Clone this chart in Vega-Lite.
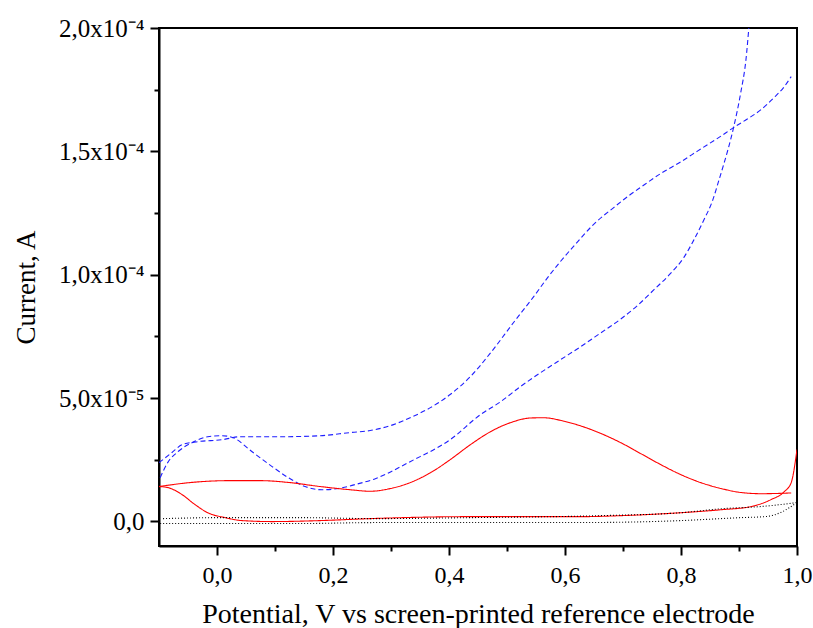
{
  "$schema": "https://vega.github.io/schema/vega-lite/v6.json",
  "width": 638,
  "height": 518,
  "autosize": "none",
  "padding": {"left": 159, "top": 28, "right": 16, "bottom": 82},
  "background": "white",
  "config": {"view": {"stroke": "black", "strokeWidth": 2}, "font": "Liberation Serif"},
  "datasets": {
    "cv": [
      {"series": "U", "V": -0.100, "I": 2.38e-5},
      {"series": "U", "V": -0.078, "I": 2.78e-5},
      {"series": "U", "V": -0.060, "I": 3.11e-5},
      {"series": "U", "V": -0.033, "I": 3.23e-5},
      {"series": "U", "V": 0.009, "I": 3.31e-5},
      {"series": "U", "V": 0.040, "I": 3.43e-5},
      {"series": "U", "V": 0.109, "I": 3.43e-5},
      {"series": "U", "V": 0.178, "I": 3.47e-5},
      {"series": "U", "V": 0.230, "I": 3.60e-5},
      {"series": "U", "V": 0.264, "I": 3.68e-5},
      {"series": "U", "V": 0.299, "I": 3.88e-5},
      {"series": "U", "V": 0.333, "I": 4.20e-5},
      {"series": "U", "V": 0.368, "I": 4.61e-5},
      {"series": "U", "V": 0.402, "I": 5.14e-5},
      {"series": "U", "V": 0.437, "I": 5.87e-5},
      {"series": "U", "V": 0.472, "I": 6.84e-5},
      {"series": "U", "V": 0.511, "I": 8.05e-5},
      {"series": "U", "V": 0.546, "I": 9.11e-5},
      {"series": "U", "V": 0.570, "I": 9.88e-5},
      {"series": "U", "V": 0.592, "I": 1.053e-4},
      {"series": "U", "V": 0.622, "I": 1.134e-4},
      {"series": "U", "V": 0.649, "I": 1.203e-4},
      {"series": "U", "V": 0.684, "I": 1.272e-4},
      {"series": "U", "V": 0.710, "I": 1.320e-4},
      {"series": "U", "V": 0.731, "I": 1.355e-4},
      {"series": "U", "V": 0.765, "I": 1.410e-4},
      {"series": "U", "V": 0.800, "I": 1.458e-4},
      {"series": "U", "V": 0.829, "I": 1.502e-4},
      {"series": "U", "V": 0.869, "I": 1.562e-4},
      {"series": "U", "V": 0.891, "I": 1.597e-4},
      {"series": "U", "V": 0.915, "I": 1.632e-4},
      {"series": "U", "V": 0.938, "I": 1.669e-4},
      {"series": "U", "V": 0.960, "I": 1.717e-4},
      {"series": "U", "V": 0.978, "I": 1.762e-4},
      {"series": "U", "V": 0.990, "I": 1.803e-4},

      {"series": "L", "V": -0.098, "I": 1.77e-5},
      {"series": "L", "V": -0.085, "I": 2.38e-5},
      {"series": "L", "V": -0.067, "I": 2.83e-5},
      {"series": "L", "V": -0.043, "I": 3.19e-5},
      {"series": "L", "V": -0.016, "I": 3.43e-5},
      {"series": "L", "V": 0.009, "I": 3.47e-5},
      {"series": "L", "V": 0.028, "I": 3.39e-5},
      {"series": "L", "V": 0.060, "I": 2.83e-5},
      {"series": "L", "V": 0.095, "I": 2.22e-5},
      {"series": "L", "V": 0.123, "I": 1.77e-5},
      {"series": "L", "V": 0.152, "I": 1.41e-5},
      {"series": "L", "V": 0.181, "I": 1.28e-5},
      {"series": "L", "V": 0.209, "I": 1.33e-5},
      {"series": "L", "V": 0.238, "I": 1.49e-5},
      {"series": "L", "V": 0.273, "I": 1.73e-5},
      {"series": "L", "V": 0.333, "I": 2.42e-5},
      {"series": "L", "V": 0.402, "I": 3.31e-5},
      {"series": "L", "V": 0.454, "I": 4.32e-5},
      {"series": "L", "V": 0.489, "I": 4.85e-5},
      {"series": "L", "V": 0.523, "I": 5.46e-5},
      {"series": "L", "V": 0.558, "I": 6.03e-5},
      {"series": "L", "V": 0.592, "I": 6.55e-5},
      {"series": "L", "V": 0.627, "I": 7.08e-5},
      {"series": "L", "V": 0.661, "I": 7.63e-5},
      {"series": "L", "V": 0.696, "I": 8.20e-5},
      {"series": "L", "V": 0.725, "I": 8.75e-5},
      {"series": "L", "V": 0.753, "I": 9.38e-5},
      {"series": "L", "V": 0.782, "I": 1.005e-4},
      {"series": "L", "V": 0.805, "I": 1.070e-4},
      {"series": "L", "V": 0.822, "I": 1.140e-4},
      {"series": "L", "V": 0.839, "I": 1.220e-4},
      {"series": "L", "V": 0.855, "I": 1.304e-4},
      {"series": "L", "V": 0.865, "I": 1.380e-4},
      {"series": "L", "V": 0.874, "I": 1.450e-4},
      {"series": "L", "V": 0.881, "I": 1.507e-4},
      {"series": "L", "V": 0.891, "I": 1.600e-4},
      {"series": "L", "V": 0.903, "I": 1.738e-4},
      {"series": "L", "V": 0.912, "I": 1.872e-4},
      {"series": "L", "V": 0.917, "I": 2.001e-4},

      {"series": "R1", "V": -0.100, "I": 1.41e-5},
      {"series": "R1", "V": -0.047, "I": 1.57e-5},
      {"series": "R1", "V": 0.022, "I": 1.65e-5},
      {"series": "R1", "V": 0.074, "I": 1.65e-5},
      {"series": "R1", "V": 0.126, "I": 1.57e-5},
      {"series": "R1", "V": 0.178, "I": 1.41e-5},
      {"series": "R1", "V": 0.230, "I": 1.28e-5},
      {"series": "R1", "V": 0.264, "I": 1.22e-5},
      {"series": "R1", "V": 0.299, "I": 1.33e-5},
      {"series": "R1", "V": 0.333, "I": 1.57e-5},
      {"series": "R1", "V": 0.368, "I": 1.97e-5},
      {"series": "R1", "V": 0.402, "I": 2.50e-5},
      {"series": "R1", "V": 0.437, "I": 3.11e-5},
      {"series": "R1", "V": 0.472, "I": 3.64e-5},
      {"series": "R1", "V": 0.506, "I": 4.00e-5},
      {"series": "R1", "V": 0.541, "I": 4.19e-5},
      {"series": "R1", "V": 0.563, "I": 4.20e-5},
      {"series": "R1", "V": 0.598, "I": 4.06e-5},
      {"series": "R1", "V": 0.632, "I": 3.83e-5},
      {"series": "R1", "V": 0.661, "I": 3.57e-5},
      {"series": "R1", "V": 0.696, "I": 3.19e-5},
      {"series": "R1", "V": 0.731, "I": 2.74e-5},
      {"series": "R1", "V": 0.765, "I": 2.30e-5},
      {"series": "R1", "V": 0.800, "I": 1.89e-5},
      {"series": "R1", "V": 0.834, "I": 1.57e-5},
      {"series": "R1", "V": 0.869, "I": 1.33e-5},
      {"series": "R1", "V": 0.903, "I": 1.17e-5},
      {"series": "R1", "V": 0.938, "I": 1.12e-5},
      {"series": "R1", "V": 0.990, "I": 1.15e-5},

      {"series": "R2", "V": -0.100, "I": 1.41e-5},
      {"series": "R2", "V": -0.085, "I": 1.37e-5},
      {"series": "R2", "V": -0.060, "I": 1.08e-5},
      {"series": "R2", "V": -0.038, "I": 0.68e-5},
      {"series": "R2", "V": -0.016, "I": 0.35e-5},
      {"series": "R2", "V": 0.014, "I": 0.15e-5},
      {"series": "R2", "V": 0.043, "I": 0.03e-5},
      {"series": "R2", "V": 0.095, "I": -0.01e-5},
      {"series": "R2", "V": 0.178, "I": 0.03e-5},
      {"series": "R2", "V": 0.264, "I": 0.11e-5},
      {"series": "R2", "V": 0.437, "I": 0.19e-5},
      {"series": "R2", "V": 0.627, "I": 0.19e-5},
      {"series": "R2", "V": 0.696, "I": 0.23e-5},
      {"series": "R2", "V": 0.800, "I": 0.35e-5},
      {"series": "R2", "V": 0.869, "I": 0.47e-5},
      {"series": "R2", "V": 0.921, "I": 0.60e-5},
      {"series": "R2", "V": 0.955, "I": 0.88e-5},
      {"series": "R2", "V": 0.978, "I": 1.20e-5},
      {"series": "R2", "V": 0.990, "I": 1.57e-5},
      {"series": "R2", "V": 1.000, "I": 2.91e-5},

      {"series": "D1", "V": -0.093, "I": 0.11e-5},
      {"series": "D1", "V": 0.005, "I": 0.15e-5},
      {"series": "D1", "V": 0.143, "I": 0.15e-5},
      {"series": "D1", "V": 0.273, "I": 0.11e-5},
      {"series": "D1", "V": 0.437, "I": 0.15e-5},
      {"series": "D1", "V": 0.661, "I": 0.23e-5},
      {"series": "D1", "V": 0.800, "I": 0.35e-5},
      {"series": "D1", "V": 0.869, "I": 0.51e-5},
      {"series": "D1", "V": 0.938, "I": 0.60e-5},
      {"series": "D1", "V": 0.972, "I": 0.68e-5},
      {"series": "D1", "V": 1.000, "I": 0.76e-5},

      {"series": "D2", "V": -0.098, "I": -0.09e-5},
      {"series": "D2", "V": 0.143, "I": -0.09e-5},
      {"series": "D2", "V": 0.273, "I": -0.05e-5},
      {"series": "D2", "V": 0.627, "I": -0.05e-5},
      {"series": "D2", "V": 0.800, "I": 0.03e-5},
      {"series": "D2", "V": 0.903, "I": 0.15e-5},
      {"series": "D2", "V": 0.945, "I": 0.19e-5},
      {"series": "D2", "V": 0.972, "I": 0.36e-5},
      {"series": "D2", "V": 0.995, "I": 0.68e-5}
    ]
  },
  "data": {"name": "cv"},
  "resolve": {"axis": {"x": "independent", "y": "independent"}},
  "layer": [
    {
      "mark": {"type": "line", "opacity": 0},
      "encoding": {
        "x": {"field": "V", "type": "quantitative", "scale": {"domain": [-0.1, 1.0], "nice": false, "zero": false},
          "axis": {"orient": "bottom", "values": [0.1, 0.3, 0.5, 0.7, 0.9], "labels": false, "title": null, "domain": false, "grid": false, "tickColor": "black", "tickWidth": 2, "tickSize": 5}},
        "y": {"field": "I", "type": "quantitative", "scale": {"domain": [-0.00001, 0.0002], "nice": false, "zero": false},
          "axis": {"orient": "left", "values": [0.000025, 0.000075, 0.000125, 0.000175], "labels": false, "title": null, "domain": false, "grid": false, "tickColor": "black", "tickWidth": 2, "tickSize": 5}}
      }
    },
    {
      "mark": {"type": "line", "strokeWidth": 1.1, "interpolate": "monotone", "clip": true},
      "encoding": {
        "x": {"field": "V", "type": "quantitative", "scale": {"domain": [-0.1, 1.0], "nice": false, "zero": false},
          "axis": {"orient": "bottom", "values": [0, 0.2, 0.4, 0.6, 0.8, 1.0], "labelExpr": "replace(format(datum.value,'.1f'),'.',',')",
            "title": "Potential, V vs screen-printed reference electrode", "grid": false,
            "domainColor": "black", "domainWidth": 2, "tickColor": "black", "tickWidth": 2, "tickSize": 9,
            "labelFont": "Liberation Serif", "labelFontSize": 24, "labelColor": "black", "labelPadding": 8, "labelFlush": false,
            "titleFont": "Liberation Serif", "titleFontSize": 28, "titleFontWeight": "normal", "titleColor": "black", "titlePadding": 13}},
        "y": {"field": "I", "type": "quantitative", "scale": {"domain": [-0.00001, 0.0002], "nice": false, "zero": false},
          "axis": {"orient": "left", "values": [0, 0.00005, 0.0001, 0.00015, 0.0002],
            "labelExpr": "abs(datum.value) < 1e-9 ? '0,0' : abs(datum.value - 0.00005) < 1e-9 ? '5,0x10⁻⁵' : abs(datum.value - 0.0001) < 1e-9 ? '1,0x10⁻⁴' : abs(datum.value - 0.00015) < 1e-9 ? '1,5x10⁻⁴' : '2,0x10⁻⁴'",
            "title": "Current, A", "grid": false,
            "domainColor": "black", "domainWidth": 2, "tickColor": "black", "tickWidth": 2, "tickSize": 9,
            "labelFont": "Liberation Serif", "labelFontSize": 25, "labelColor": "black", "labelPadding": 6, "labelFlush": false,
            "titleFont": "Liberation Serif", "titleFontSize": 27, "titleFontWeight": "normal", "titleColor": "black", "titlePadding": 18}},
        "color": {"field": "series", "type": "nominal", "legend": null,
          "scale": {"domain": ["U", "L", "R1", "R2", "D1", "D2"], "range": ["#1f1fff", "#1f1fff", "#ff0000", "#ff0000", "#000000", "#000000"]}},
        "strokeDash": {"field": "series", "type": "nominal", "legend": null,
          "scale": {"domain": ["U", "L", "R1", "R2", "D1", "D2"], "range": [[5, 3], [5, 3], [1, 0], [1, 0], [1, 2], [1, 2]]}}
      }
    }
  ]
}
